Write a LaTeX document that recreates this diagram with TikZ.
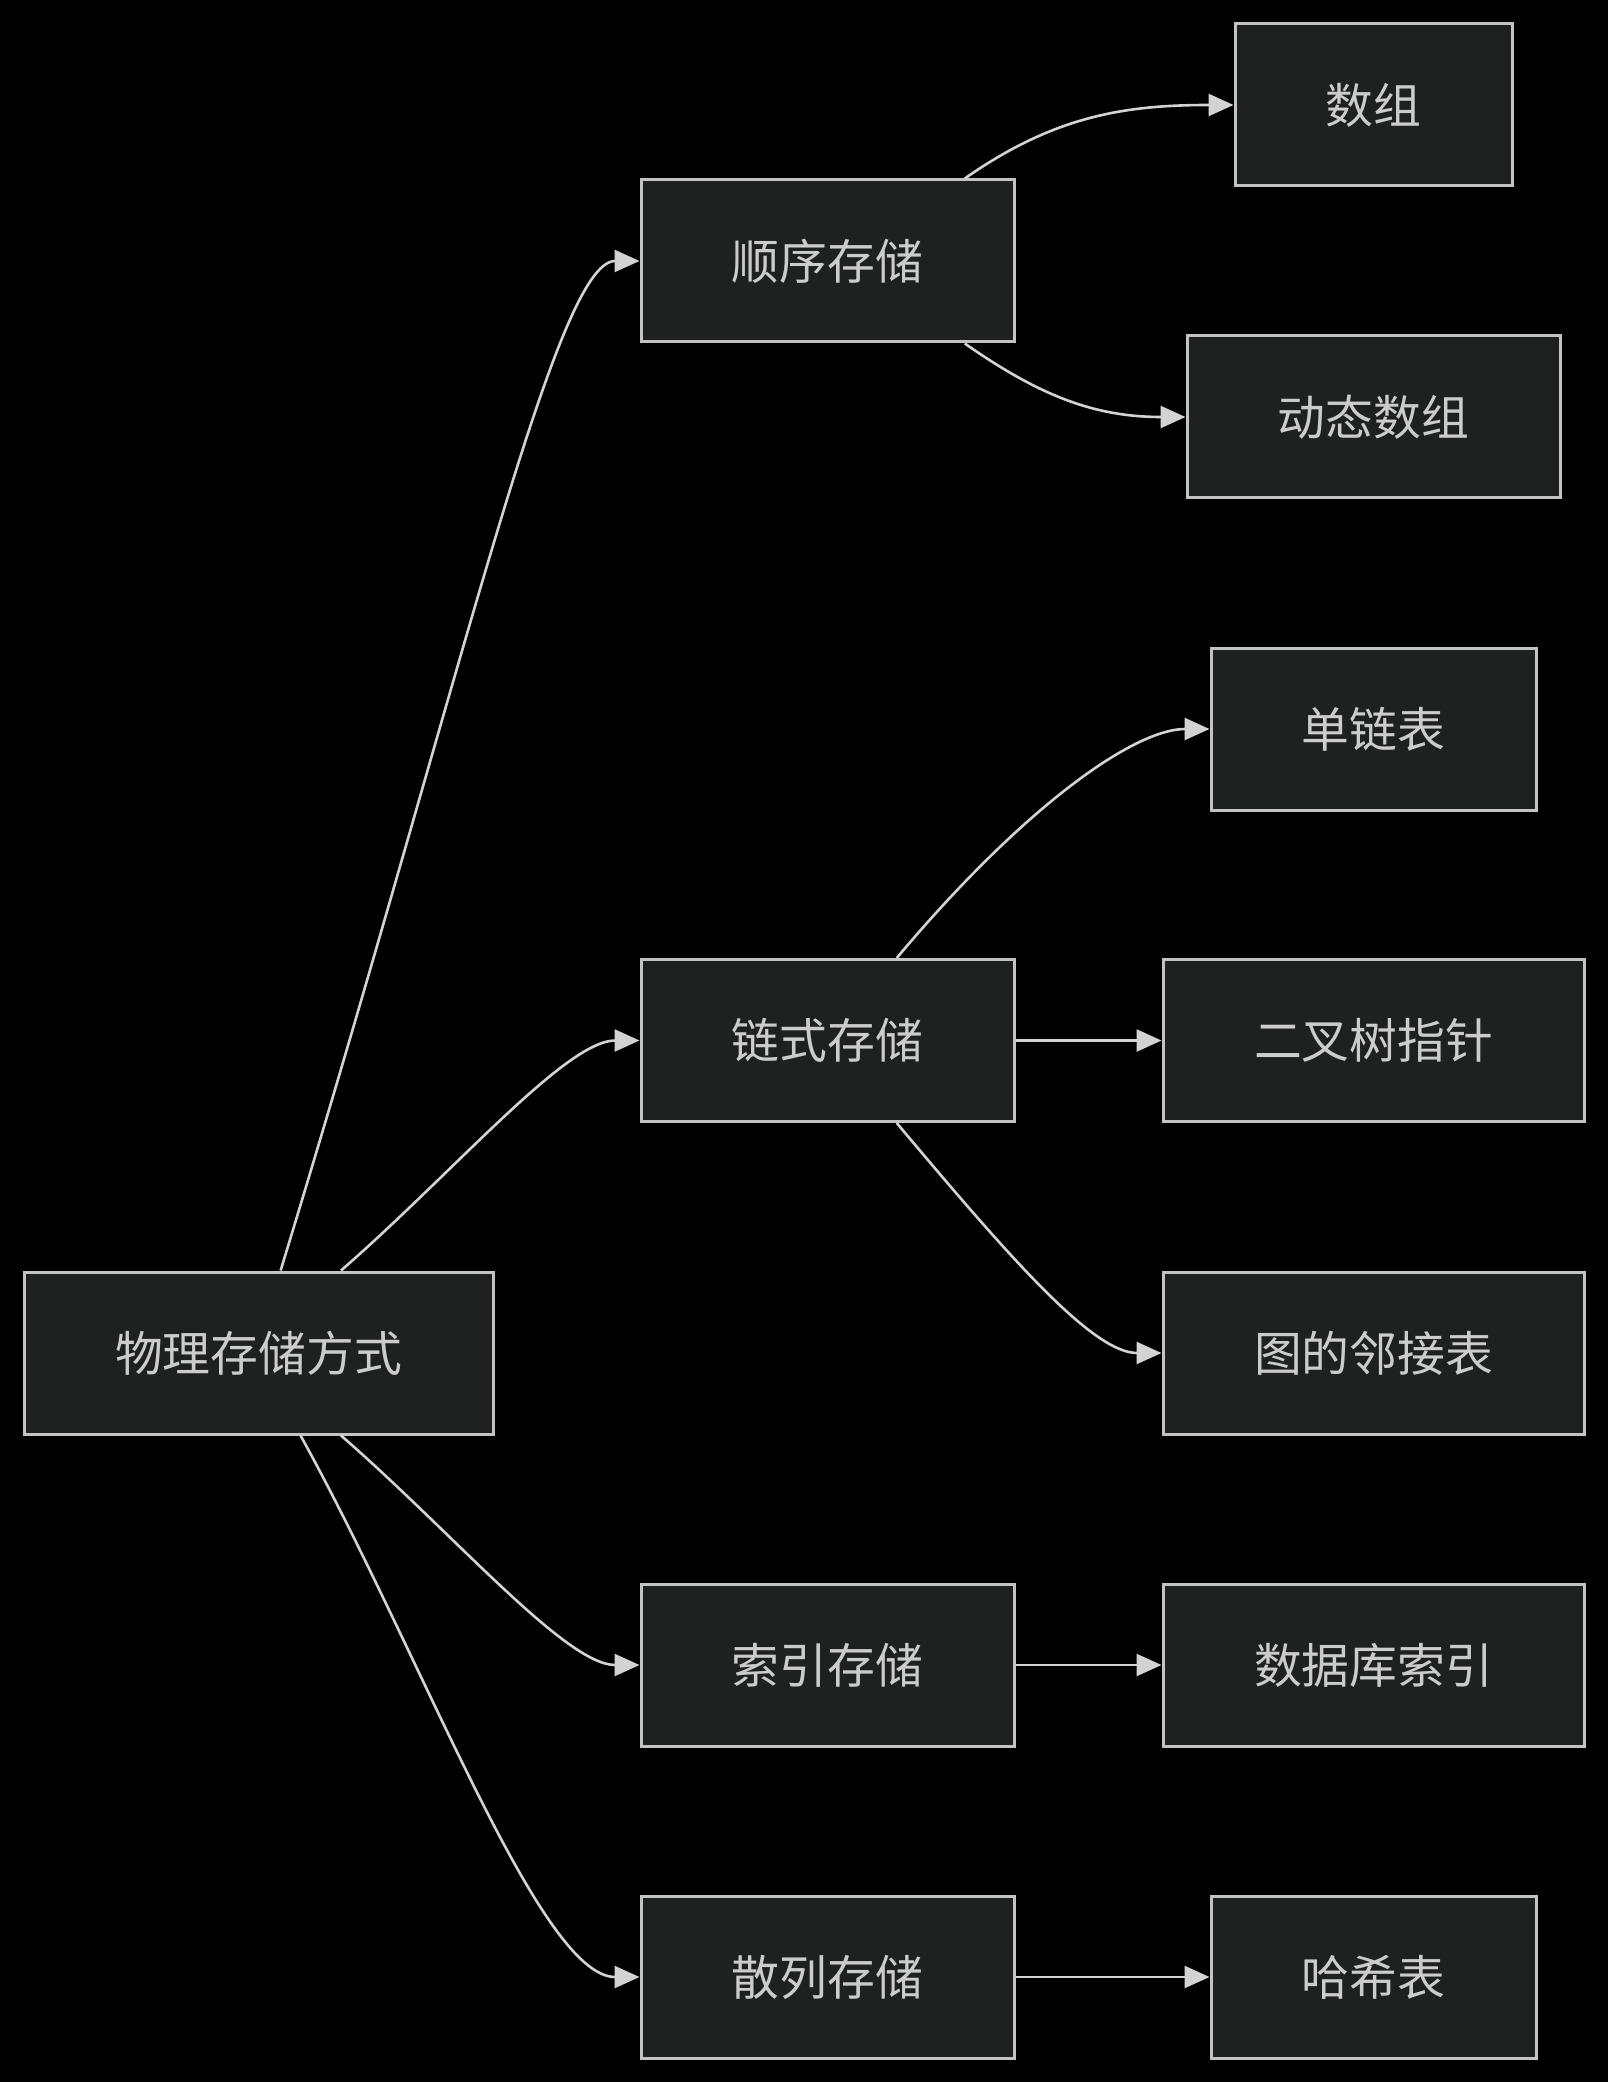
\documentclass[tikz,border=0pt]{standalone}
\usepackage{fontspec}
\newfontfamily\cjkfont{Noto Sans CJK SC}
\usepackage{tikz}
\usetikzlibrary{arrows.meta}
\definecolor{boxfill}{RGB}{31,32,32}
\definecolor{boxline}{RGB}{195,195,195}
\definecolor{boxtext}{RGB}{204,204,204}
\definecolor{linkline}{RGB}{211,211,211}
\tikzset{
  storebox/.style={
    rectangle,
    draw = boxline,
    fill = boxfill,
    text = boxtext,
    line width = 0.03cm,
    minimum height = 1.62cm,
    inner sep = 0,
    font = \cjkfont\fontsize{13.6}{16}\selectfont
  },
  linkarrow/.style={
    draw = linkline,
    line width = 0.026cm,
    arrows = {-Triangle[length=0.25cm, width=0.22cm]}
  }
}
\begin{document}
\begin{tikzpicture}
    \fill[black] (0,0) rectangle (16.08,-20.82);
    \useasboundingbox (0,0) rectangle (16.08,-20.82);
    \node (root) at (2.585,-13.53)[storebox, minimum width=4.69cm]{物理存储方式};
    \node (seq) at (8.275,-2.61)[storebox, minimum width=3.73cm]{顺序存储};
    \node (chain) at (8.275,-10.405)[storebox, minimum width=3.73cm]{链式存储};
    \node (index) at (8.275,-16.65)[storebox, minimum width=3.73cm]{索引存储};
    \node (hash) at (8.275,-19.77)[storebox, minimum width=3.73cm]{散列存储};
    \node (arr) at (13.735,-1.05)[storebox, minimum width=2.77cm]{数组};
    \node (dynarr) at (13.735,-4.17)[storebox, minimum width=3.73cm]{动态数组};
    \node (single) at (13.735,-7.29)[storebox, minimum width=3.25cm]{单链表};
    \node (bintree) at (13.735,-10.405)[storebox, minimum width=4.21cm]{二叉树指针};
    \node (graph) at (13.735,-13.53)[storebox, minimum width=4.21cm]{图的邻接表};
    \node (dbindex) at (13.735,-16.65)[storebox, minimum width=4.21cm]{数据库索引};
    \node (hashtab) at (13.735,-19.77)[storebox, minimum width=3.25cm]{哈希表};
    \draw[linkarrow] (root.75) to[out=73, in=180, out looseness=1.5, in looseness=0.2] (seq.west);
    \draw[linkarrow] (root.45) to[out=41, in=180, in looseness=0.5] (chain.west);
    \draw[linkarrow] (root.-45) to[out=-41, in=180, in looseness=0.5] (index.west);
    \draw[linkarrow] (root.-63) to[out=-61, in=180, in looseness=0.4] (hash.west);
    \draw[linkarrow] (seq.31) to[out=35, in=180] (arr.west);
    \draw[linkarrow] (seq.-31) to[out=-35, in=180] (dynarr.west);
    \draw[linkarrow] (chain.50) to[out=50, in=180, out looseness=1.3, in looseness=0.5] (single.west);
    \draw[linkarrow] (chain.east) -- (bintree.west);
    \draw[linkarrow] (chain.-50) to[out=-50, in=180, out looseness=1.3, in looseness=0.5] (graph.west);
    \draw[linkarrow] (index.east) -- (dbindex.west);
    \draw[linkarrow] (hash.east) -- (hashtab.west);
\end{tikzpicture}
\end{document}
